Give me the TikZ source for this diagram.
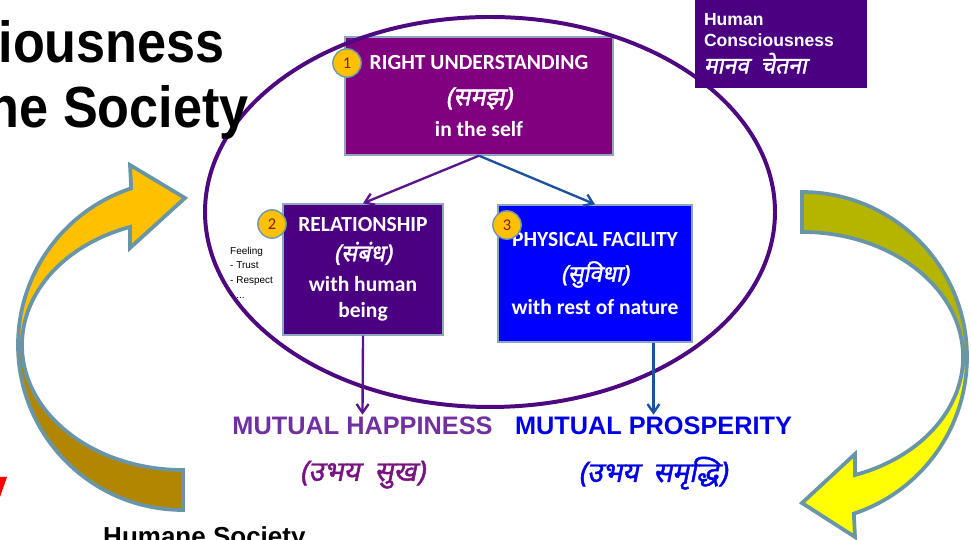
\documentclass[tikz,border=0pt]{standalone}
\usepackage{fontspec}
\setmainfont{Liberation Sans}
\newfontfamily\boxfont{Carlito}
\newfontfamily\devit{Noto Sans}[Script=Devanagari,FakeSlant=0.2,FakeBold=1.6]
\newfontfamily\titlefont{Liberation Sans}[FakeStretch=0.9]
\usetikzlibrary{arrows.meta, positioning}
\definecolor{rightpurple}{RGB}{128,0,128}
\definecolor{relindigo}{RGB}{75,0,130}
\definecolor{physblue}{RGB}{0,0,255}
\definecolor{ringpurple}{RGB}{78,8,128}
\definecolor{boxedge}{RGB}{141,168,190}
\definecolor{badgegold}{RGB}{255,192,0}
\definecolor{badgeedge}{RGB}{110,150,175}
\definecolor{badgenum}{RGB}{128,32,32}
\definecolor{happypurple}{RGB}{112,48,160}
\definecolor{happyhindi}{RGB}{120,20,130}
\definecolor{prosblue}{RGB}{0,0,230}
\definecolor{arrowpurple}{RGB}{90,20,140}
\definecolor{arrowblue}{RGB}{30,80,160}
\definecolor{curveedge}{RGB}{104,149,168}
\definecolor{curvegold}{RGB}{255,192,0}
\definecolor{curvebrown}{RGB}{178,134,0}
\definecolor{curveolive}{RGB}{181,181,0}
\definecolor{curveyellow}{RGB}{255,255,0}

\begin{document}
\begin{tikzpicture}[x=0.03cm, y=0.03cm,
    sqbox/.style={draw=boxedge, line width=1.2pt, text=white, align=center, inner sep=0pt,
        font=\boxfont\bfseries\fontsize{18.4}{28}\selectfont},
    badge/.style={circle, draw=badgeedge, line width=1.2pt, fill=badgegold, text=badgenum,
        minimum size=0.85cm, inner sep=0pt, font=\boxfont\fontsize{14}{14}\selectfont},
    flowarrow/.style={-{Straight Barb[length=2.6mm, width=3.6mm]}, line width=2pt},
    curvearrow/.style={draw=curveedge, line width=3.2pt, line join=miter}]
    \useasboundingbox (0,0) rectangle (971,540);
    \clip (0,0) rectangle (971,540);

    % Left curved arrow
    \coordinate (lc) at (183,195);
    \draw[curvearrow, fill=curvebrown] (lc) ++(180:165) arc[start angle=180, end angle=270, radius=165]
        -- ++(0,40) arc[start angle=270, end angle=180, x radius=161, y radius=125] -- cycle;
    \draw[curvearrow, fill=curvegold] (lc) ++(108.3:165) arc[start angle=108.3, end angle=180, radius=165]
        -- ++(4,0) arc[start angle=180, end angle=109.2, x radius=161, y radius=125]
        -- (130,292) -- (185,342) -- (130,375) -- cycle;

    % Right curved arrow
    \coordinate (rc) at (802,183);
    \draw[curvearrow, fill=curveolive] (rc) ++(90:165) arc[start angle=90, end angle=0, radius=165]
        -- ++(-4,0) arc[start angle=0, end angle=90, x radius=161, y radius=125] -- cycle;
    \draw[curvearrow, fill=curveyellow] (rc) ++(0:165) arc[start angle=0, end angle=-71.7, radius=165]
        -- (855,3) -- (802,37) -- (855,86) -- (855,65)
        arc[start angle=-70.8, end angle=0, x radius=161, y radius=125] -- cycle;

    % Red fragment, bottom left
    \fill[red] (0,63) -- (7,63) -- (0,43) -- cycle;

    % Right understanding
    \node[sqbox, fill=rightpurple, minimum width=8.04cm, minimum height=3.54cm] (und) at (479,444)
        {RIGHT UNDERSTANDING\\[3pt]{\devit\fontsize{21.5}{28}\selectfont (समझ)}\\[-1pt]in the self};

    % The ring
    \draw[ringpurple, line width=3.4pt] (490,328) ellipse[x radius=285, y radius=195];

    % Relationship and physical facility
    \node[sqbox, fill=relindigo, minimum width=4.8cm, minimum height=3.93cm,
        font=\boxfont\bfseries\fontsize{18.4}{20}\selectfont] (rel) at (363,270.5)
        {RELATIONSHIP\\[5pt]{\devit\fontsize{20}{20}\selectfont (संबंध)}\\[6pt]with human\\[2pt]being};
    \node[sqbox, fill=physblue, minimum width=5.82cm, minimum height=4.11cm] (phys) at (595,266.5)
        {PHYSICAL FACILITY\\[2pt]{\devit\fontsize{19.5}{28}\selectfont (सुविधा)}\\with rest of nature};

    \node[badge] (b1) at (347,477) {1};
    \node[badge] (b2) at (272,316) {2};
    \node[badge] (b3) at (507,315) {3};

    \node[anchor=north west, inner sep=0pt, align=left, font=\fontsize{8.5}{12.4}\selectfont] (feel) at (230,293)
        {Feeling\\- Trust\\- Respect\\- ...};

    % Human consciousness box
    \node[fill=relindigo, text=white, minimum width=5.16cm, inner xsep=0.27cm, inner ysep=0.42cm,
        text width=4.62cm, align=left, font=\bfseries\fontsize{15}{18}\selectfont, anchor=north] (hc) at (781,541)
        {Human\\Consciousness\\[5pt]{\devit\fontsize{19.5}{18}\selectfont मानव\ \ चेतना}};

    % Outcomes
    \node[anchor=base, inner sep=2pt, text=happypurple, font=\bfseries\fontsize{21.6}{24}\selectfont] (mh) at (362.5,105)
        {MUTUAL HAPPINESS};
    \node[anchor=base, text=happyhindi, font=\devit\fontsize{24}{26}\selectfont] (mhh) at (362.5,59)
        {(उभय\ \ सुख)};
    \node[anchor=base, inner sep=2pt, text=prosblue, font=\bfseries\fontsize{21.6}{24}\selectfont] (mp) at (653.5,105)
        {MUTUAL PROSPERITY};
    \node[anchor=base, text=prosblue, font=\devit\fontsize{24}{26}\selectfont] (mph) at (653,58)
        {(उभय\ \ समृद्धि)};

    \draw[flowarrow, arrowpurple] (und.south) -- (rel.north);
    \draw[flowarrow, arrowblue] (und.south) -- (phys.north);
    \draw[flowarrow, arrowpurple] (rel.south) -- (mh.north);
    \draw[flowarrow, arrowblue] (phys.south -| mp.north) -- (mp.north);

    % Title fragments
    \node[anchor=base east, inner sep=0pt, font=\titlefont\bfseries\fontsize{49.5}{55}\selectfont] (t1) at (225,477) {iousness};
    \node[anchor=base east, inner sep=0pt, font=\titlefont\bfseries\fontsize{49.5}{55}\selectfont] (t2) at (249,412) {ne Society};
    \node[anchor=base west, inner sep=0pt, font=\bfseries\fontsize{22.2}{24}\selectfont] (hs) at (103,-5.5) {Humane Society};
\end{tikzpicture}
\end{document}
